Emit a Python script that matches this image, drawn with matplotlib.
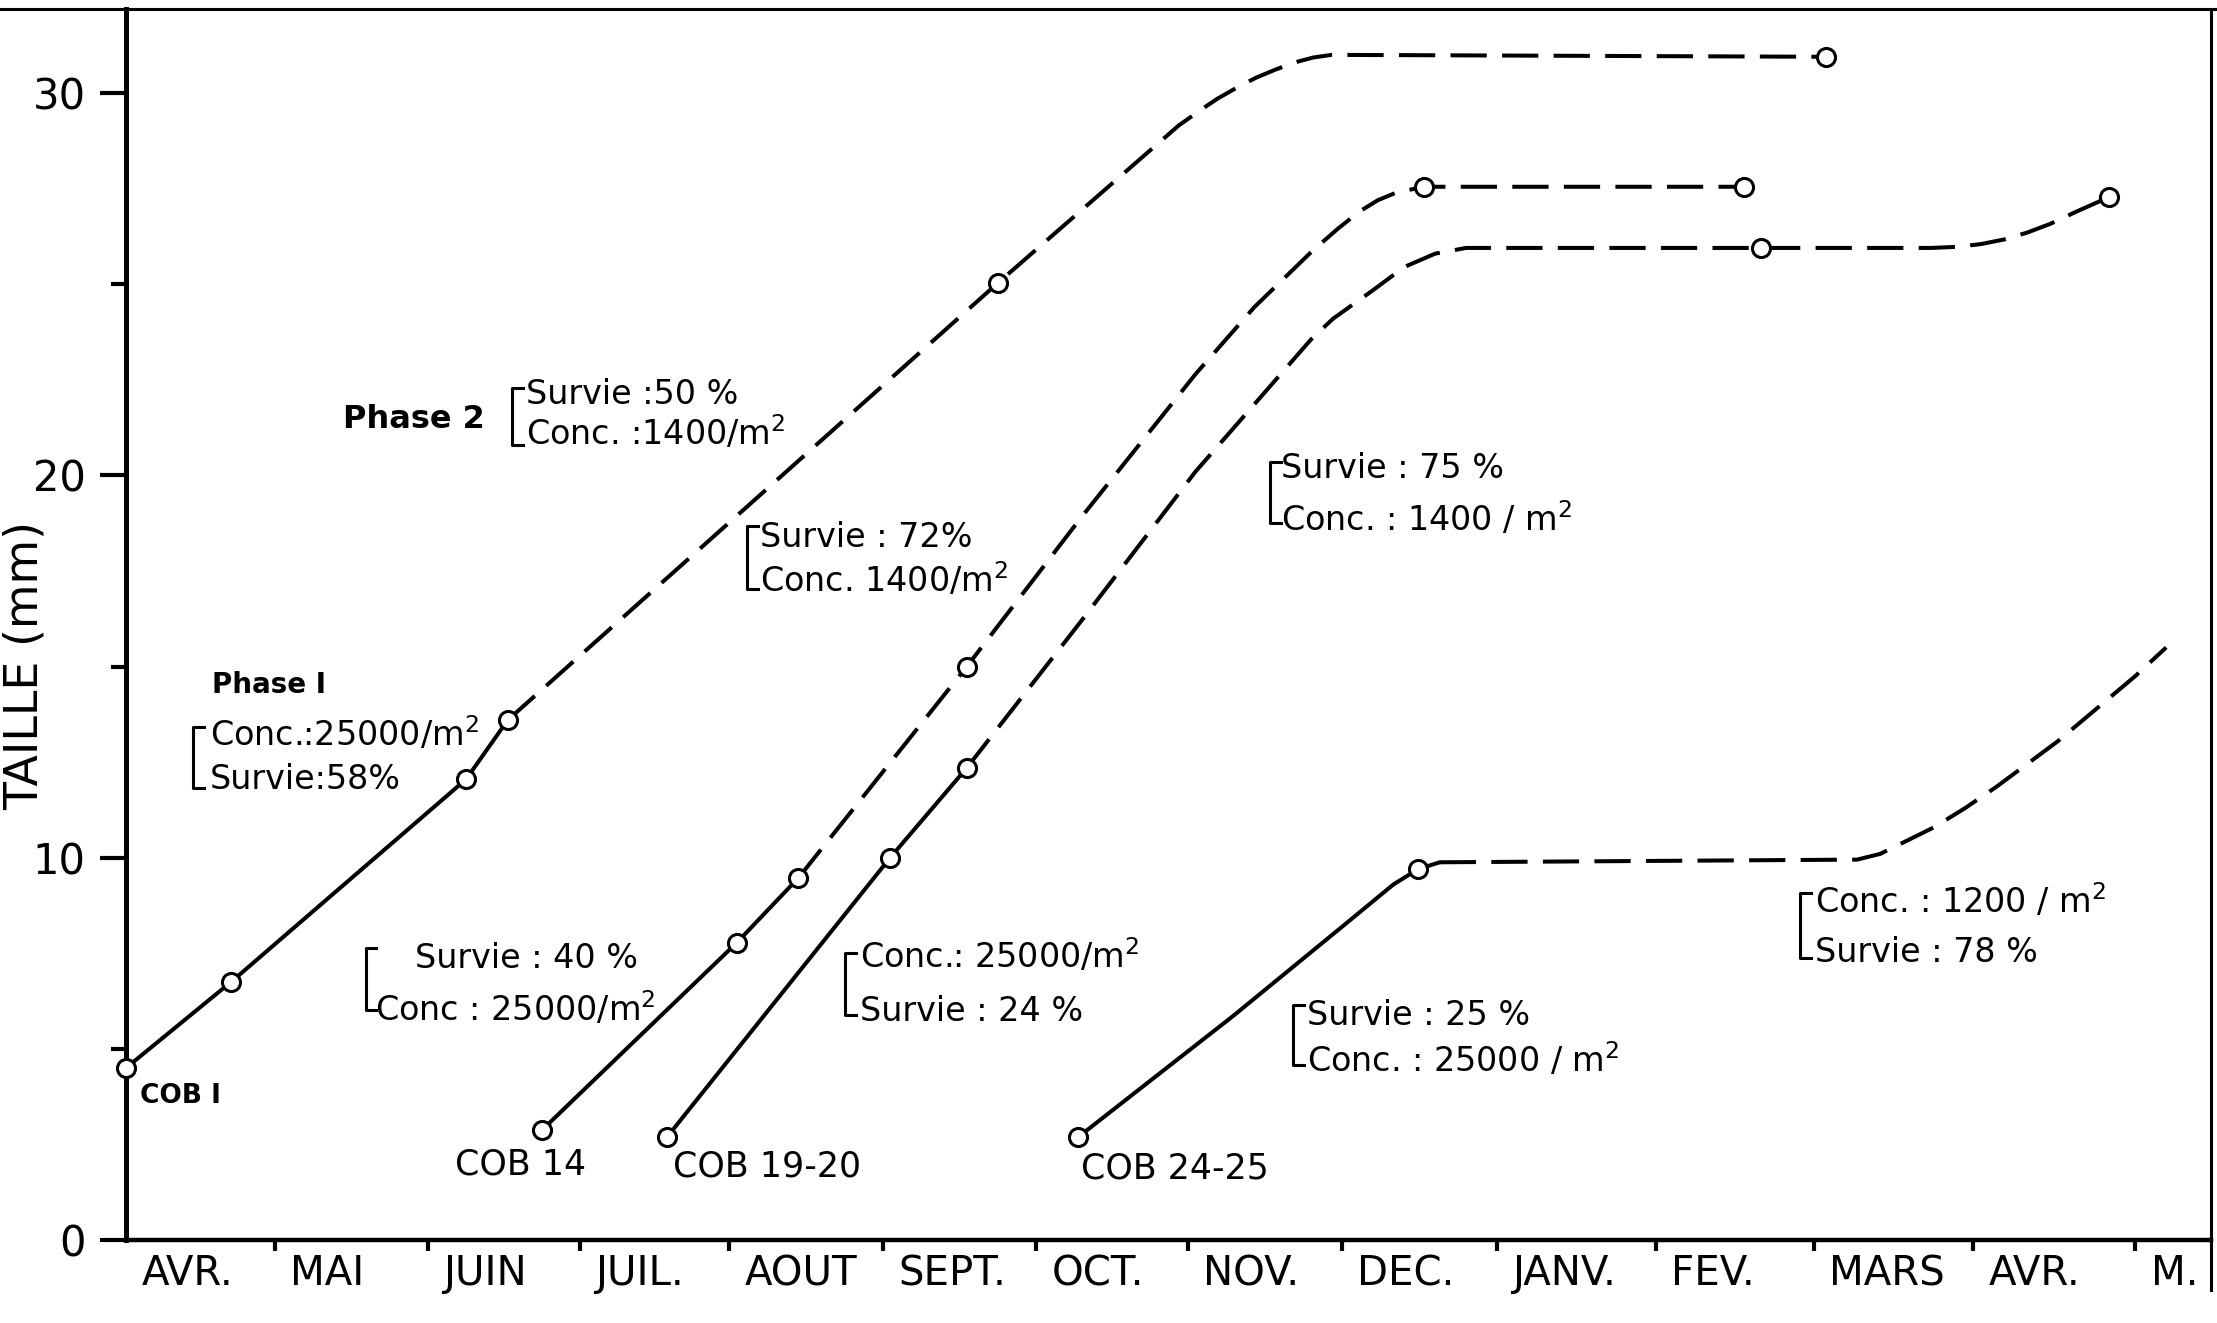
import matplotlib
matplotlib.use("Agg")
import matplotlib.pyplot as plt
from matplotlib.lines import Line2D

plt.rcParams["font.family"] = "DejaVu Sans"
plt.rcParams["mathtext.default"] = "regular"

# mois (un par intervalle, x = mois depuis début avril)
MONTHS = ["AVR.", "MAI", "JUIN", "JUIL.", "AOUT", "SEPT.", "OCT.",
          "NOV.", "DEC.", "JANV.", "FEV.", "MARS", "AVR.", "M."]
# limites de mois (traits de l'axe, tracés à la main donc pas tout à fait réguliers)
MONTH_EDGES = [0.0, 0.963, 1.953, 2.937, 3.90, 4.895, 5.89, 6.87,
               7.865, 8.868, 9.896, 10.92, 11.95, 13.0]

# --- COB 1 ---
COB1_PTS_X = [0.0, 0.68, 2.20, 2.47, 5.64, 11.0]
COB1_PTS_Y = [4.5, 6.75, 12.05, 13.6, 25.03, 30.95]
COB1_SOLID_X = [0.0, 0.68, 2.20, 2.47]
COB1_SOLID_Y = [4.5, 6.75, 12.05, 13.6]
COB1_DASH_X = [2.47, 5.64, 6.81, 6.95, 7.06, 7.19, 7.31, 7.44, 7.56, 7.68, 7.80, 11.0]
COB1_DASH_Y = [13.6, 25.03, 29.15, 29.55, 29.85, 30.15, 30.4, 30.62, 30.8, 30.93, 31.0, 30.95]

# --- COB 14 ---
COB14_PTS_X = [2.69, 3.95, 4.35, 5.44, 8.40, 10.47]
COB14_PTS_Y = [2.87, 7.77, 9.47, 15.0, 27.55, 27.55]
COB14_SOLID_X = [2.69, 3.95, 4.35]
COB14_SOLID_Y = [2.87, 7.77, 9.47]
COB14_DASH_X = [4.35, 5.44, 6.18, 6.92, 7.30, 7.67, 7.84, 7.98, 8.10, 8.22, 8.40, 10.47]
COB14_DASH_Y = [9.47, 15.0, 18.9, 22.65, 24.4, 25.85, 26.45, 26.9, 27.2, 27.4, 27.55, 27.55]

# --- COB 19-20 ---
COB19_PTS_X = [3.50, 4.94, 5.44, 10.58, 12.83]
COB19_PTS_Y = [2.69, 9.98, 12.35, 25.95, 27.28]
COB19_SOLID_X = [3.50, 4.94, 5.44]
COB19_SOLID_Y = [2.69, 9.98, 12.35]
COB19_DASH_X = [5.44, 6.18, 6.92, 7.67, 7.81, 8.07, 8.27, 8.47, 8.67, 10.58,
                11.68, 11.85, 12.0, 12.15, 12.3, 12.45, 12.63, 12.83]
COB19_DASH_Y = [12.35, 16.19, 20.1, 23.57, 24.1, 24.85, 25.45, 25.8, 25.95, 25.95,
                25.95, 25.98, 26.05, 26.17, 26.35, 26.58, 26.92, 27.28]

# --- COB 24-25 ---
COB24_PTS_X = [6.16, 8.36]
COB24_PTS_Y = [2.69, 9.70]
COB24_SOLID_X = [6.16, 7.16, 7.90, 8.20, 8.36, 8.50]
COB24_SOLID_Y = [2.69, 5.85, 8.30, 9.30, 9.70, 9.88]
COB24_DASH_X = [8.50, 11.20, 11.35, 11.50, 11.70, 11.90, 12.10, 12.30, 12.50, 12.75, 13.00, 13.20]
COB24_DASH_Y = [9.88, 9.95, 10.10, 10.40, 10.80, 11.30, 11.85, 12.45, 13.05, 13.90, 14.75, 15.50]

SERIES = [
    (COB1_PTS_X, COB1_PTS_Y, COB1_SOLID_X, COB1_SOLID_Y, COB1_DASH_X, COB1_DASH_Y),
    (COB14_PTS_X, COB14_PTS_Y, COB14_SOLID_X, COB14_SOLID_Y, COB14_DASH_X, COB14_DASH_Y),
    (COB19_PTS_X, COB19_PTS_Y, COB19_SOLID_X, COB19_SOLID_Y, COB19_DASH_X, COB19_DASH_Y),
    (COB24_PTS_X, COB24_PTS_Y, COB24_SOLID_X, COB24_SOLID_Y, COB24_DASH_X, COB24_DASH_Y),
]

# blocs [ Survie / Conc. : crochet x, haut, bas ; texte ligne 1 ; texte ligne 2
NOTES = [
    (2.50, 22.29, 20.80, 2.59, 21.87, "Survie :50 %", 2.59, 20.79, "Conc. :1400/m$^2$"),
    (0.433, 13.42, 11.82, 0.543, 12.92, "Conc.:25000/m$^2$", 0.543, 11.79, "Survie:58%"),
    (4.02, 18.68, 17.03, 4.10, 18.12, "Survie : 72%", 4.10, 16.95, "Conc. 1400/m$^2$"),
    (1.55, 7.64, 6.02, 1.87, 7.11, "Survie : 40 %", 1.61, 5.73, "Conc : 25000/m$^2$"),
    (4.65, 7.51, 5.89, 4.75, 7.11, "Conc.: 25000/m$^2$", 4.75, 5.73, "Survie : 24 %"),
    (7.40, 20.35, 18.75, 7.47, 19.93, "Survie : 75 %", 7.47, 18.54, "Conc. : 1400 / m$^2$"),
    (7.55, 6.15, 4.58, 7.64, 5.62, "Survie : 25 %", 7.64, 4.39, "Conc. : 25000 / m$^2$"),
    (10.83, 9.08, 7.38, 10.93, 8.55, "Conc. : 1200 / m$^2$", 10.93, 7.27, "Survie : 78 %"),
]

COB_LABELS = [(2.13, 1.72, "COB 14"), (3.54, 1.67, "COB 19-20"), (6.18, 1.62, "COB 24-25")]

W, H = 2217, 1323
fig = plt.figure(figsize=(W / 100, H / 100), dpi=100)
ax = fig.add_axes([126 / W, 1 - 1240 / H, (2211 - 126) / W, (1240 - 9) / H])
ax.set_xlim(0, 13.49)
ax.set_ylim(0, 32.2)

LW = 2.9
for px, py, sx, sy, dx, dy in SERIES:
    ax.plot(sx, sy, color="black", lw=LW, solid_capstyle="round",
            solid_joinstyle="round", zorder=3)
    ax.plot(dx, dy, color="black", lw=LW, linestyle=(0, (9, 3.8)), zorder=3)
    ax.plot(px, py, linestyle="none", marker="o", ms=13, mfc="white", mec="black",
            mew=2.2, zorder=5, clip_on=False)

# crochets et textes
FS = 24
for xb, yt, yb, x1, y1, t1, x2, y2, t2 in NOTES:
    ax.plot([xb + 0.07, xb, xb, xb + 0.07], [yt, yt, yb, yb], color="black",
            lw=2.2, zorder=3)
    ax.text(x1, y1, t1, fontsize=FS, va="baseline", ha="left")
    ax.text(x2, y2, t2, fontsize=FS, va="baseline", ha="left")

ax.text(2.32, 21.24, "Phase 2", fontsize=23, fontweight="bold", ha="right", va="baseline")
ax.text(0.556, 14.31, "Phase I", fontsize=20, fontweight="bold", ha="left", va="baseline")
ax.text(0.09, 3.58, "COB I", fontsize=19, fontweight="bold", ha="left", va="baseline")
for x, y, t in COB_LABELS:
    ax.text(x, y, t, fontsize=25, ha="left", va="baseline")

# axes
for side in ("top", "right"):
    ax.spines[side].set_visible(False)
ax.spines["left"].set_linewidth(3.6)
ax.spines["bottom"].set_linewidth(3.2)

ax.set_yticks([0, 10, 20, 30])
ax.set_yticks([5, 15, 25], minor=True)
ax.tick_params(axis="y", which="major", length=19, width=3, pad=10, labelsize=30)
ax.tick_params(axis="y", which="minor", length=11, width=3)
ax.set_xticks(MONTH_EDGES[1:])
ax.set_xticklabels([])
ax.tick_params(axis="x", which="major", length=8, width=3)

for edge, m in zip(MONTH_EDGES, MONTHS):
    ax.text(edge + 0.1, -0.028, m, transform=ax.get_xaxis_transform(), fontsize=29,
            ha="left", va="center")

fig.text(3 / W, 1 - 665 / H, "TAILLE (mm)", rotation=90, fontsize=33,
         ha="left", va="center")

# cadre de la page scannée
fig.add_artist(Line2D([0, 1], [1 - 9 / H, 1 - 9 / H], color="black", lw=2.2))
fig.add_artist(Line2D([2211 / W, 2211 / W], [1 - 1290 / H, 1 - 9 / H], color="black", lw=2.2))

fig.savefig("out.png", dpi=100)
